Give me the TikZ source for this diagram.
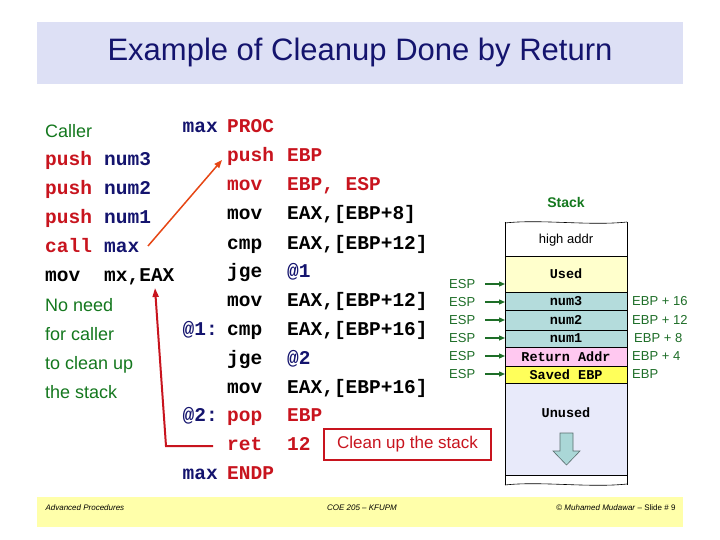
\documentclass[tikz,border=0pt]{standalone}
\usepackage{fontspec}
\setmainfont{Liberation Sans}
\newfontfamily\cmono{Liberation Mono}
\usetikzlibrary{arrows.meta}
\definecolor{navy}{RGB}{20,20,110}
\definecolor{cred}{RGB}{200,20,30}
\definecolor{cgreen}{RGB}{20,120,30}
\definecolor{esp}{RGB}{30,110,40}
\begin{document}
\begin{tikzpicture}[x=1pt,y=-1pt,
  code/.style={anchor=base west,inner sep=0pt,font=\cmono\bfseries\fontsize{19.5}{19.5}\selectfont},
  sans/.style={anchor=base west,inner sep=0pt,font=\fontsize{18}{18}\selectfont},
  cell/.style={draw=black,line width=0.6pt},
  stxt/.style={anchor=center,inner sep=0pt,font=\cmono\bfseries\fontsize{13.5}{13.5}\selectfont},
  espl/.style={anchor=west,inner sep=0pt,text=esp,font=\fontsize{13}{13}\selectfont},
  ebpl/.style={anchor=west,inner sep=0pt,text=esp,font=\fontsize{13}{13}\selectfont}]
\useasboundingbox (0,0) rectangle (720,540);
\fill[white] (0,0) rectangle (720,540);
% title
\node[fill={rgb,255:red,221;green,224;blue,245},minimum width=646,minimum height=62,anchor=north west,inner sep=0pt] (tb) at (37,22) {};
\node[text=navy,font=\fontsize{31}{31}\selectfont] (title) at (360,52) {Example of Cleanup Done by Return};
% footer
\node[fill={rgb,255:red,255;green,255;blue,170},minimum width=646,minimum height=30,anchor=north west,inner sep=0pt] (fb) at (37,497) {};
\node[anchor=west,font=\itshape\fontsize{8}{8}\selectfont] (f1) at (42,508) {Advanced Procedures};
\node[anchor=center,font=\itshape\fontsize{8}{8}\selectfont] (f2) at (362,508) {COE 205 -- KFUPM};
\node[anchor=east,font=\fontsize{8}{8}\selectfont] (f3) at (679,508) {© \textit{Muhamed Mudawar} -- Slide \# 9};
% caller
\node[sans,text=cgreen] (caller) at (45,138) {Caller};
\node[code,text=cred] (c1) at (45,166) {push};\node[code,text=navy] (c1b) at (104,166) {num3};
\node[code,text=cred] (c2) at (45,195) {push};\node[code,text=navy] (c2b) at (104,195) {num2};
\node[code,text=cred] (c3) at (45,224) {push};\node[code,text=navy] (c3b) at (104,224) {num1};
\node[code,text=cred] (c4) at (45,252) {call};\node[code,text=navy] (c4b) at (104,252) {max};
\node[code] (c5) at (45,281) {mov};\node[code] (c5b) at (104,281) {mx,EAX};
\node[sans,text=cgreen] (n1) at (45,311) {No need};
\node[sans,text=cgreen] (n2) at (45,340) {for caller};
\node[sans,text=cgreen] (n3) at (45,369) {to clean up};
\node[sans,text=cgreen] (n4) at (45,398) {the stack};
% procedure
\foreach \y/\lab/\lc/\mn/\mc/\op/\oc [count=\i] in {
 133/max /navy/PROC/cred//black,
 162//navy/push/cred/EBP/cred,
 191//navy/mov/cred/{EBP, ESP}/cred,
 220//navy/mov/black/{EAX,[EBP+8]}/black,
 249//navy/cmp/black/{EAX,[EBP+12]}/black,
 277//navy/jge/black/@1/navy,
 306//navy/mov/black/{EAX,[EBP+12]}/black,
 335/@1:/navy/cmp/black/{EAX,[EBP+16]}/black,
 364//navy/jge/black/@2/navy,
 393//navy/mov/black/{EAX,[EBP+16]}/black,
 421/@2:/navy/pop/cred/EBP/cred,
 450//navy/ret/cred/12/cred,
 479/max/navy/ENDP/cred//black}{
 \node[code,anchor=base east,text=\lc] (l\i) at (218,\y) {\lab};
 \node[code,text=\mc] (m\i) at (227,\y) {\mn};
 \node[code,text=\oc] (o\i) at (287,\y) {\op};
}
\node[draw=cred,line width=2pt,text=cred,minimum width=167,minimum height=31,inner sep=0pt,font=\fontsize{17}{17}\selectfont] (clean) at (407.5,444) {Clean up the stack};
% arrows
\coordinate (oa) at (148,246);
\coordinate (ob) at (222,160);
\draw[-{Triangle[length=8pt,width=6pt]},draw={rgb,255:red,230;green,70;blue,20},fill={rgb,255:red,230;green,70;blue,20},line width=1.5pt] (oa) -- (ob);
\coordinate (ra) at (213,446);
\coordinate (rb) at (166,446);
\coordinate (rc) at (155,288);
\draw[-{Triangle[length=9pt,width=6pt]},draw=cred,line width=2pt] (ra) -- (rb) -- (rc);
% stack
\node[text=cgreen,font=\bfseries\fontsize{14}{14}\selectfont] (stk) at (566,202) {Stack};
\fill[white] (505,222) rectangle (627,256);
\draw[cell] (505,222) -- (505,485) (627,222) -- (627,485);
\draw[cell] (505,223) .. controls (540,219) and (590,226) .. (627,222);
\draw[cell] (505,485) .. controls (540,481) and (590,488) .. (627,484);
\node[anchor=center,font=\fontsize{13}{13}\selectfont] (ha) at (566,240) {high addr};
\filldraw[cell,fill={rgb,255:red,255;green,255;blue,204}] (505,256) rectangle (627,292);
\node[stxt] (used) at (566,274) {Used};
\filldraw[cell,fill={rgb,255:red,180;green,220;blue,220}] (505,292) rectangle (627,310);
\node[stxt] (s3) at (566,301) {num3};
\filldraw[cell,fill={rgb,255:red,180;green,220;blue,220}] (505,310) rectangle (627,330);
\node[stxt] (s2) at (566,320) {num2};
\filldraw[cell,fill={rgb,255:red,180;green,220;blue,220}] (505,330) rectangle (627,347);
\node[stxt] (s1) at (566,338.5) {num1};
\filldraw[cell,fill={rgb,255:red,255;green,200;blue,240}] (505,347) rectangle (627,366);
\node[stxt] (sr) at (566,356.5) {Return Addr};
\filldraw[cell,fill={rgb,255:red,255;green,255;blue,90}] (505,366) rectangle (627,383);
\node[stxt] (se) at (566,374.5) {Saved EBP};
\filldraw[cell,fill={rgb,255:red,232;green,234;blue,250}] (505,383) rectangle (627,475);
\node[stxt] (un) at (566,413) {Unused};
\filldraw[draw={rgb,255:red,90;green,110;blue,110},fill={rgb,255:red,170;green,215;blue,215},line width=0.6pt]
  (560,433) -- (573,433) -- (573,451) -- (580,451) -- (566.5,465) -- (553,451) -- (560,451) -- cycle;
\foreach \y [count=\i] in {284,302,320,338,356,374}{
  \node[espl] (e\i) at (449,\y) {ESP};
  \coordinate (ea\i) at (485,\y);
  \coordinate (eb\i) at (505,\y);
  \draw[-{Triangle[length=6pt,width=5pt]},draw=esp,fill=esp,line width=1.3pt] (ea\i) -- (eb\i);
}
\node[ebpl] (b1) at (632,301) {EBP + 16};
\node[ebpl] (b2) at (632,320) {EBP + 12};
\node[ebpl] (b3) at (634,338.5) {EBP + 8};
\node[ebpl] (b4) at (632,356.5) {EBP + 4};
\node[ebpl] (b5) at (632,374.5) {EBP};
\end{tikzpicture}
\end{document}
